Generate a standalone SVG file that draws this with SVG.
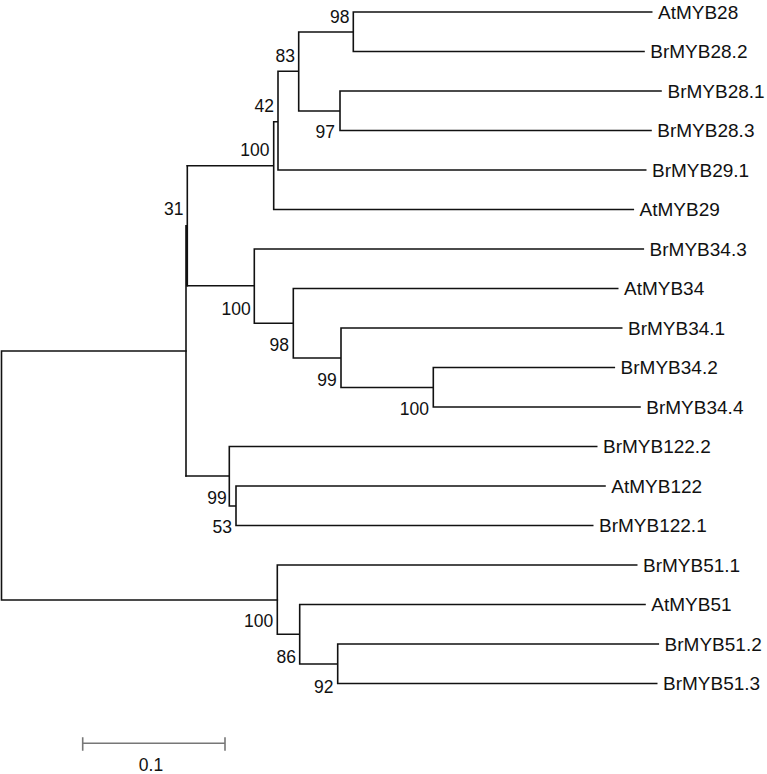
<svg xmlns="http://www.w3.org/2000/svg" width="767" height="774" viewBox="0 0 767 774">
<style>
.br{fill:none;stroke:#111;stroke-width:1.6;stroke-linecap:square}
.lf{font-family:"Liberation Sans",Arial,sans-serif;font-size:19px;fill:#111}
.bs{font-family:"Liberation Sans",Arial,sans-serif;font-size:17.5px;fill:#111;text-anchor:end}
.sc{fill:none;stroke:#777;stroke-width:1.6}
</style>
<rect width="767" height="774" fill="#fff"/>
<g id="connectors">
<path class="br" d="M1.5,351V600M1.5,351H186M1.5,600H277.3"/>
<path class="br" d="M186,225.7V476M186,225.7H187.3M187.3,165.7V285.7"/>
<path class="br" d="M187.3,165.7H273.7M273.7,121.7V209.5M273.7,209.5H633.3M273.7,121.7H278M278,71.3V170H645.7M278,71.3H298.7M298.7,32V111M298.7,32H353.3M353.3,12V51.5M353.3,12H651.7M353.3,51.5H644M298.7,111H340M340,91V130.5M340,91H661M340,130.5H651"/>
<path class="br" d="M187.3,285.7H254.3M254.3,249V323.3M254.3,249H643.3M254.3,323.3H293.3M293.3,288.5V358M293.3,288.5H617.7M293.3,358H341M341,328V387.5M341,328H621.7M341,387.5H433.3M433.3,367.5V407M433.3,367.5H614.3M433.3,407H640"/>
<path class="br" d="M186,476H229.3M229.3,446.5V506M229.3,446.5H596.7M229.3,506H236M236,486V525.5M236,486H605M236,525.5H592.7"/>
<path class="br" d="M277.3,565V634.3M277.3,565H636.7M277.3,634.3H299.7M299.7,604.5V664M299.7,604.5H645M299.7,664H337.7M337.7,644V683.5M337.7,644H658.3M337.7,683.5H656.7"/>
</g>
<g id="leaf-AtMYB28"><text class="lf" x="658" y="18.8">AtMYB28</text></g>
<g id="leaf-BrMYB28.2"><text class="lf" x="650.3" y="58.3">BrMYB28.2</text></g>
<g id="leaf-BrMYB28.1"><text class="lf" x="667.5" y="97.8">BrMYB28.1</text></g>
<g id="leaf-BrMYB28.3"><text class="lf" x="657.3" y="137.3">BrMYB28.3</text></g>
<g id="leaf-BrMYB29.1"><text class="lf" x="652" y="176.8">BrMYB29.1</text></g>
<g id="leaf-AtMYB29"><text class="lf" x="639.6" y="216.3">AtMYB29</text></g>
<g id="leaf-BrMYB34.3"><text class="lf" x="649.6" y="255.8">BrMYB34.3</text></g>
<g id="leaf-AtMYB34"><text class="lf" x="624" y="295.3">AtMYB34</text></g>
<g id="leaf-BrMYB34.1"><text class="lf" x="628" y="334.8">BrMYB34.1</text></g>
<g id="leaf-BrMYB34.2"><text class="lf" x="620.6" y="374.3">BrMYB34.2</text></g>
<g id="leaf-BrMYB34.4"><text class="lf" x="646.3" y="413.8">BrMYB34.4</text></g>
<g id="leaf-BrMYB122.2"><text class="lf" x="603" y="453.3">BrMYB122.2</text></g>
<g id="leaf-AtMYB122"><text class="lf" x="611.3" y="492.8">AtMYB122</text></g>
<g id="leaf-BrMYB122.1"><text class="lf" x="599" y="532.3">BrMYB122.1</text></g>
<g id="leaf-BrMYB51.1"><text class="lf" x="643" y="571.8">BrMYB51.1</text></g>
<g id="leaf-AtMYB51"><text class="lf" x="651.3" y="611.3">AtMYB51</text></g>
<g id="leaf-BrMYB51.2"><text class="lf" x="664.6" y="650.8">BrMYB51.2</text></g>
<g id="leaf-BrMYB51.3"><text class="lf" x="663" y="690.3">BrMYB51.3</text></g>
<g id="node-98a"><text class="bs" x="349.5" y="22.7">98</text></g>
<g id="node-83"><text class="bs" x="295" y="62">83</text></g>
<g id="node-97"><text class="bs" x="335" y="138.3">97</text></g>
<g id="node-42"><text class="bs" x="274" y="111.7">42</text></g>
<g id="node-100a"><text class="bs" x="269.5" y="156">100</text></g>
<g id="node-31"><text class="bs" x="183.5" y="215">31</text></g>
<g id="node-100b"><text class="bs" x="250.8" y="315">100</text></g>
<g id="node-98b"><text class="bs" x="289" y="350.7">98</text></g>
<g id="node-99a"><text class="bs" x="336.7" y="386">99</text></g>
<g id="node-100c"><text class="bs" x="429" y="415">100</text></g>
<g id="node-99b"><text class="bs" x="226.7" y="504">99</text></g>
<g id="node-53"><text class="bs" x="232" y="533.3">53</text></g>
<g id="node-100d"><text class="bs" x="273.3" y="627.3">100</text></g>
<g id="node-86"><text class="bs" x="296" y="662.7">86</text></g>
<g id="node-92"><text class="bs" x="333.5" y="693">92</text></g>
<g id="scale-bar">
<path class="sc" d="M82.7,743.3H225M82.7,737.3V750.7M225,737.3V750.7"/>
<text class="lf" x="151" y="770.7" text-anchor="middle" style="font-size:17.5px">0.1</text>
</g>
</svg>
